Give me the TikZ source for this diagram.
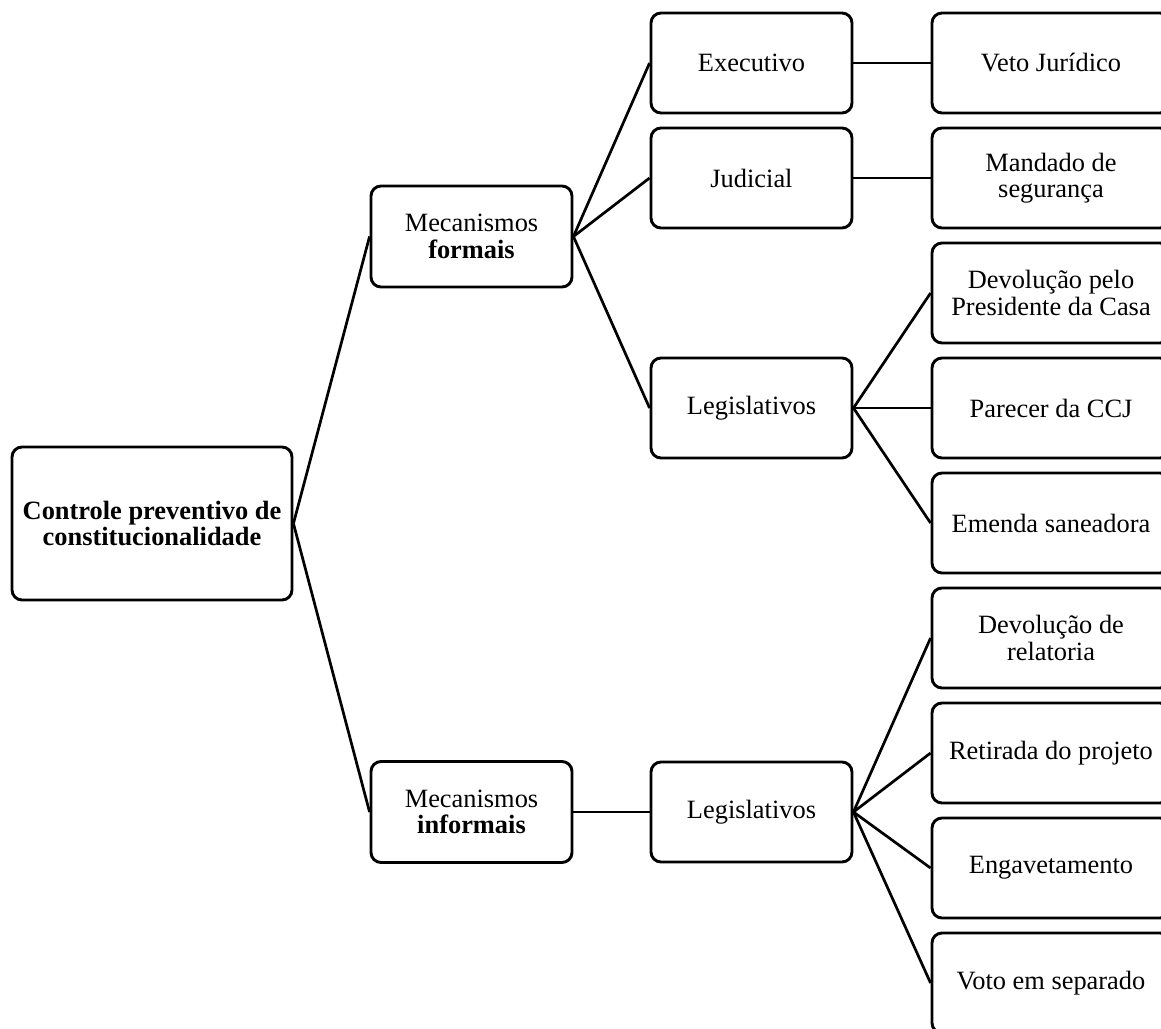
\documentclass[tikz,border=0pt]{standalone}
\usepackage{fontspec}
\setmainfont{Liberation Serif}
\begin{document}
\begin{tikzpicture}[x=0.5pt,y=-0.5pt,
  box/.style={draw, line width=1.45pt, rounded corners=5pt, align=center, inner sep=0pt,
    font=\fontsize{13.2}{13.3}\selectfont},
  rootbox/.style={box, minimum width=140pt, minimum height=76.5pt},
  midbox/.style={box, minimum width=100.5pt, minimum height=50.5pt},
  leafbox/.style={box, minimum width=119pt, minimum height=50pt},
  link/.style={line width=1.35pt},
]
\useasboundingbox (0,0) rectangle (1161,1028);
\clip (0,0) rectangle (1161,1028);

\node[rootbox] (root) at (152,523.5) {\textbf{Controle preventivo de}\\\textbf{constitucionalidade}};

\node[midbox] (form) at (471.5,236.5) {Mecanismos\\\textbf{formais}};
\node[midbox] (inf) at (471.5,812) {Mecanismos\\\textbf{informais}};

\node[midbox, minimum height=50pt] (exe) at (751.5,63) {Executivo};
\node[midbox, minimum height=50pt] (jud) at (751.5,178) {Judicial};
\node[midbox, minimum height=50pt] (leg) at (751.5,408) {Legislativos};
\node[midbox, minimum height=50pt] (legi) at (751.5,812) {Legislativos};

\node[leafbox] (veto) at (1051,63) {Veto Jurídico};
\node[leafbox] (mand) at (1051,178) {Mandado de\\segurança};
\node[leafbox] (devp) at (1051,293) {Devolução pelo\\Presidente da Casa};
\node[leafbox] (ccj) at (1051,408) {Parecer da CCJ};
\node[leafbox] (emen) at (1051,523) {Emenda saneadora};
\node[leafbox] (devr) at (1051,638) {Devolução de\\relatoria};
\node[leafbox] (ret) at (1051,753) {Retirada do projeto};
\node[leafbox] (eng) at (1051,868) {Engavetamento};
\node[leafbox] (voto) at (1051,983) {Voto em separado};

\draw[link] (root.east) -- (form.west);
\draw[link] (root.east) -- (inf.west);
\draw[link] (form.east) -- (exe.west);
\draw[link] (form.east) -- (jud.west);
\draw[link] (form.east) -- (leg.west);
\draw[link] (inf.east) -- (legi.west);
\draw[link] (exe.east) -- (veto.west);
\draw[link] (jud.east) -- (mand.west);
\draw[link] (leg.east) -- (devp.west);
\draw[link] (leg.east) -- (ccj.west);
\draw[link] (leg.east) -- (emen.west);
\draw[link] (legi.east) -- (devr.west);
\draw[link] (legi.east) -- (ret.west);
\draw[link] (legi.east) -- (eng.west);
\draw[link] (legi.east) -- (voto.west);
\end{tikzpicture}
\end{document}
